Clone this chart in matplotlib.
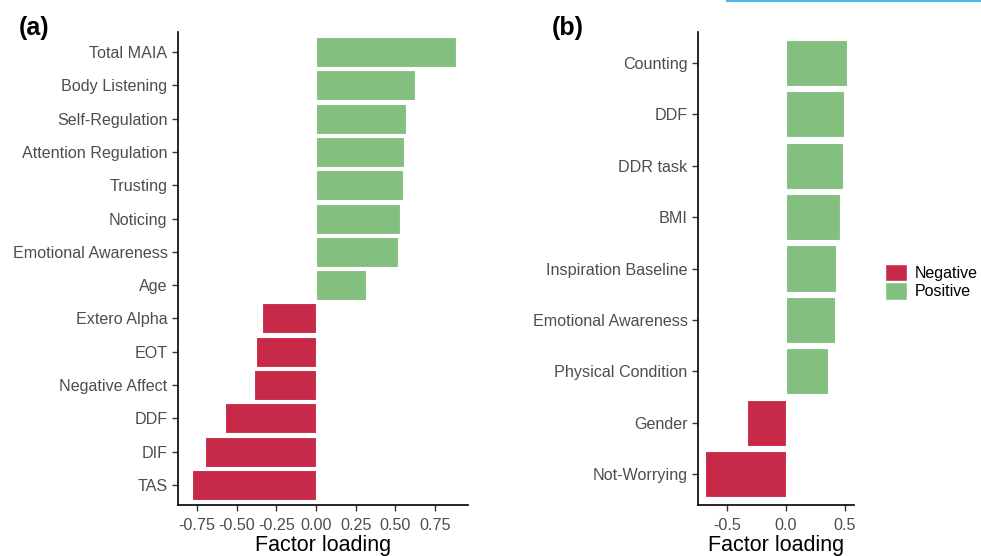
import matplotlib
matplotlib.use('Agg')
import matplotlib.pyplot as plt
from matplotlib.patches import Patch
from matplotlib.lines import Line2D

plt.rcParams['font.family'] = ['Liberation Sans', 'DejaVu Sans']

# panel (a), top to bottom
labels_a = ['Total MAIA', 'Body Listening', 'Self-Regulation', 'Attention Regulation',
            'Trusting', 'Noticing', 'Emotional Awareness', 'Age', 'Extero Alpha',
            'EOT', 'Negative Affect', 'DDF', 'DIF', 'TAS']
values_a = [0.882, 0.626, 0.567, 0.557, 0.546, 0.527, 0.517, 0.315, -0.338,
            -0.378, -0.389, -0.575, -0.701, -0.781]
ticks_a = [-0.75, -0.50, -0.25, 0.00, 0.25, 0.50, 0.75]

# panel (b), top to bottom
labels_b = ['Counting', 'DDF', 'DDR task', 'BMI', 'Inspiration Baseline',
            'Emotional Awareness', 'Physical Condition', 'Gender', 'Not-Worrying']
values_b = [0.52, 0.494, 0.483, 0.46, 0.421, 0.415, 0.356, -0.33, -0.68]
ticks_b = [-0.5, 0.0, 0.5]

RED = '#C72A48'
GREEN = '#83C07F'

W, H = 981, 556
fig = plt.figure(figsize=(W / 100, H / 100), dpi=100)


def panel(rect, labels, values, ticks, xlim, fmt):
    ax = fig.add_axes(rect)
    n = len(labels)
    y = list(range(n, 0, -1))
    colors = [GREEN if v > 0 else RED for v in values]
    ax.barh(y, values, height=0.9, color=colors, edgecolor='white', linewidth=0.8)
    ax.set_ylim(0.4, n + 0.6)
    ax.set_xlim(*xlim)
    ax.set_yticks(y)
    ax.set_yticklabels(labels)
    ax.set_xticks(ticks)
    ax.set_xticklabels([fmt.format(t) for t in ticks])
    for s in ['top', 'right']:
        ax.spines[s].set_visible(False)
    for s in ['left', 'bottom']:
        ax.spines[s].set_linewidth(1.2)
    ax.tick_params(axis='both', labelsize=11.6, colors='#333333', labelcolor='#4D4D4D',
                   length=4, width=1)
    ax.tick_params(axis='x', pad=5)
    ax.set_xlabel('Factor loading', fontsize=15.5, labelpad=2)
    return ax


ax_a = panel([178 / W, 1 - 505 / H, 290 / W, 473 / H], labels_a, values_a, ticks_a,
             (-0.87, 0.958), '{:.2f}')
ax_b = panel([698 / W, 1 - 505 / H, 156 / W, 473 / H], labels_b, values_b, ticks_b,
             (-0.743, 0.576), '{:.1f}')

fig.text(19 / W, 1 - 35 / H, '(a)', fontsize=18, fontweight='bold')
fig.text(552 / W, 1 - 35 / H, '(b)', fontsize=18, fontweight='bold')

handles = [Patch(facecolor=RED, edgecolor='white', label='Negative'),
           Patch(facecolor=GREEN, edgecolor='white', label='Positive')]
fig.legend(handles=handles, loc='upper left', bbox_to_anchor=(885 / W, 1 - 264 / H),
           frameon=False, fontsize=11.5, handlelength=1.35, handleheight=1.3,
           handletextpad=0.5, labelspacing=0.05, borderpad=0, borderaxespad=0)

# thin blue line at top right edge of the source image
fig.add_artist(Line2D([727 / W, 1], [1 - 1 / H, 1 - 1 / H], color='#4DB6E8', linewidth=1.5))

fig.savefig('out.png', dpi=100)
